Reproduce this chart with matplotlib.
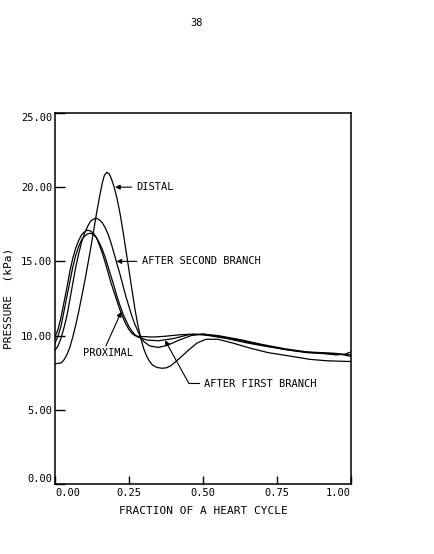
import numpy as np

import matplotlib
matplotlib.use('Agg')

import matplotlib.pyplot as plt

# pressure traces: (fraction of cycle, kPa)
proximal_x = [0.00, 0.01, 0.02, 0.03, 0.04, 0.05, 0.06, 0.07, 0.08, 0.09, 0.10, 0.11,
              0.12, 0.13, 0.14, 0.15, 0.16, 0.17, 0.18, 0.19, 0.20, 0.21, 0.22, 0.23,
              0.24, 0.25, 0.26, 0.27, 0.28, 0.30, 0.33, 0.37, 0.42, 0.47, 0.52, 0.58,
              0.65, 0.72, 0.80, 0.87, 0.92, 0.96, 1.00]
proximal_y = [9.9, 10.4, 11.2, 12.2, 13.2, 14.3, 15.2, 15.9, 16.4, 16.8, 17.0, 17.1,
              17.05, 16.9, 16.6, 16.1, 15.55, 14.9, 14.2, 13.5, 12.9, 12.3, 11.7, 11.2,
              10.75, 10.4, 10.15, 10.0, 9.95, 9.93, 9.9, 9.95, 10.05, 10.1, 10.0, 9.8,
              9.5, 9.25, 9.0, 8.85, 8.8, 8.75, 8.7]

first_x = [0.00, 0.01, 0.02, 0.03, 0.04, 0.05, 0.06, 0.07, 0.08, 0.09, 0.10, 0.11,
           0.12, 0.13, 0.14, 0.15, 0.16, 0.17, 0.18, 0.19, 0.20, 0.21, 0.22, 0.23,
           0.24, 0.25, 0.26, 0.27, 0.28, 0.31, 0.35, 0.40, 0.45, 0.50, 0.55, 0.62,
           0.70, 0.78, 0.85, 0.90, 0.95, 0.98, 1.00]
first_y = [9.5, 9.95, 10.6, 11.6, 12.6, 13.6, 14.6, 15.4, 16.0, 16.45, 16.7, 16.85,
           16.9, 16.8, 16.6, 16.25, 15.8, 15.25, 14.6, 13.95, 13.3, 12.6, 12.0, 11.45,
           11.0, 10.6, 10.3, 10.05, 9.9, 9.7, 9.65, 9.8, 10.05, 10.1, 9.95, 9.7,
           9.35, 9.05, 8.85, 8.8, 8.7, 8.75, 8.9]

second_x = [0.00, 0.01, 0.02, 0.03, 0.04, 0.05, 0.06, 0.07, 0.08, 0.09, 0.10, 0.11,
            0.12, 0.13, 0.14, 0.15, 0.16, 0.17, 0.18, 0.19, 0.20, 0.21, 0.22, 0.23,
            0.24, 0.25, 0.26, 0.27, 0.28, 0.29, 0.30, 0.32, 0.35, 0.38, 0.42, 0.46,
            0.50, 0.55, 0.62, 0.70, 0.78, 0.85, 0.90, 0.95, 1.00]
second_y = [9.0, 9.3, 9.8, 10.5, 11.3, 12.4, 13.5, 14.6, 15.5, 16.3, 16.9, 17.35,
            17.7, 17.85, 17.9, 17.8, 17.6, 17.25, 16.8, 16.2, 15.5, 14.8, 14.1, 13.35,
            12.6, 11.95, 11.3, 10.75, 10.3, 9.9, 9.6, 9.3, 9.2, 9.35, 9.7, 10.0,
            10.1, 10.0, 9.75, 9.4, 9.1, 8.9, 8.85, 8.8, 8.6]

distal_x = [0.00, 0.02, 0.03, 0.04, 0.05, 0.06, 0.07, 0.08, 0.09, 0.10, 0.11, 0.12,
            0.13, 0.14, 0.15, 0.16, 0.167, 0.175, 0.183, 0.19, 0.20, 0.21, 0.22, 0.23,
            0.24, 0.25, 0.26, 0.27, 0.28, 0.29, 0.30, 0.31, 0.32, 0.33, 0.345, 0.36,
            0.375, 0.39, 0.42, 0.45, 0.48, 0.51, 0.55, 0.60, 0.66, 0.72, 0.80, 0.86,
            0.92, 1.00]
distal_y = [8.1, 8.15, 8.35, 8.7, 9.2, 9.9, 10.7, 11.6, 12.6, 13.6, 14.7, 15.8,
            17.0, 18.2, 19.3, 20.3, 20.8, 21.0, 20.9, 20.6, 20.0, 19.2, 18.2, 17.0,
            15.7, 14.4, 13.1, 11.8, 10.7, 9.8, 9.1, 8.6, 8.25, 8.0, 7.85, 7.8,
            7.82, 7.95, 8.45, 9.0, 9.5, 9.75, 9.75, 9.5, 9.15, 8.85, 8.6, 8.4,
            8.3, 8.25]

x_ticks = [0.0, 0.25, 0.5, 0.75, 1.0]
y_ticks = [0.0, 5.0, 10.0, 15.0, 20.0, 25.0]

FONT = 'DejaVu Sans Mono'
FS = 7.5

fig = plt.figure(figsize=(4.34, 5.54), dpi=100)
ax = fig.add_axes([0.1267, 0.1264, 0.682, 0.6697])

for xs, ys in [(proximal_x, proximal_y), (first_x, first_y),
               (second_x, second_y), (distal_x, distal_y)]:
    ax.plot(xs, ys, color='black', lw=0.9)

ax.set_xlim(0, 1)
ax.set_ylim(0, 25)
ax.set_xticks(x_ticks)
ax.set_yticks(y_ticks)
ax.set_xticklabels([f"{v:.2f}" for v in x_ticks], family=FONT, fontsize=FS)
ax.set_yticklabels([f"{v:.2f}" for v in y_ticks], family=FONT, fontsize=FS)
xl = ax.get_xticklabels()
xl[0].set_ha('left')
xl[-1].set_ha('right')
yl = ax.get_yticklabels()
yl[0].set_va('bottom')
yl[-1].set_va('top')
ax.tick_params(axis='x', direction='in', length=6, width=1, pad=3)
ax.tick_params(axis='y', direction='in', length=7, width=1, pad=2)
for s in ax.spines.values():
    s.set_linewidth(1.1)

arrow = dict(arrowstyle='-|>', color='black', lw=0.8, mutation_scale=7,
             shrinkA=0, shrinkB=0)

# DISTAL
ax.text(0.276, 20.0, 'DISTAL', family=FONT, fontsize=FS, va='center', ha='left')
ax.annotate('', xy=(0.203, 20.0), xytext=(0.259, 20.0), arrowprops=arrow)

# AFTER SECOND BRANCH
ax.text(0.293, 15.0, 'AFTER SECOND BRANCH', family=FONT, fontsize=FS, va='center', ha='left')
ax.annotate('', xy=(0.208, 15.0), xytext=(0.276, 15.0), arrowprops=arrow)

# PROXIMAL
ax.text(0.096, 8.8, 'PROXIMAL', family=FONT, fontsize=FS, va='center', ha='left')
ax.annotate('', xy=(0.224, 11.6), xytext=(0.172, 9.3), arrowprops=arrow)

# AFTER FIRST BRANCH
ax.text(0.503, 6.75, 'AFTER FIRST BRANCH', family=FONT, fontsize=FS, va='center', ha='left')
ax.plot([0.487, 0.452], [6.78, 6.78], color='black', lw=0.8)
ax.annotate('', xy=(0.372, 9.68), xytext=(0.452, 6.78), arrowprops=arrow)

ax.set_xlabel('FRACTION OF A HEART CYCLE', family=FONT, fontsize=FS + 0.5, labelpad=6)
fig.text(0.02, 0.462, 'PRESSURE  (kPa)', family=FONT, fontsize=FS + 0.5,
         rotation=90, ha='center', va='center')

fig.text(0.452, 0.958, '38', family=FONT, fontsize=FS, ha='center', va='center')

fig.savefig('out.png', dpi=100, facecolor='white')
plt.close(fig)
